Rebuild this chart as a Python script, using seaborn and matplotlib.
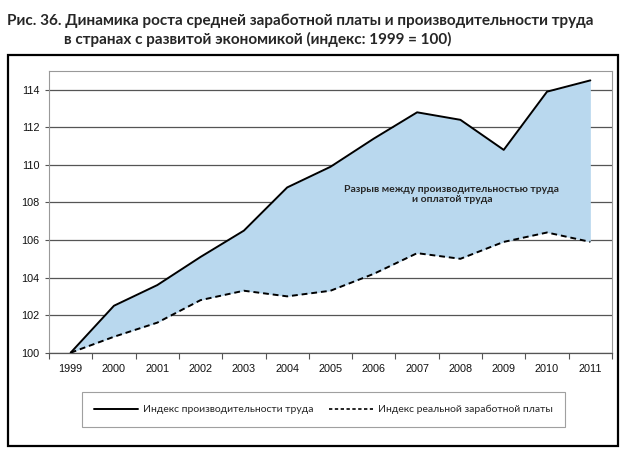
import pandas as pd
import seaborn as sns
import matplotlib.pyplot as plt
from matplotlib.patches import Rectangle

# данные (индекс: 1999 = 100)
years = ['1999', '2000', '2001', '2002', '2003', '2004', '2005',
         '2006', '2007', '2008', '2009', '2010', '2011']
productivity = [100.0, 102.5, 103.6, 105.1, 106.5, 108.8, 109.9,
                111.4, 112.8, 112.4, 110.8, 113.9, 114.5]
wages = [100.0, 100.85, 101.6, 102.8, 103.3, 103.0, 103.3,
         104.2, 105.3, 105.0, 105.9, 106.4, 105.9]

label_prod = 'Индекс производительности труда'
label_wage = 'Индекс реальной заработной платы'

df = pd.DataFrame({'Год': years, label_prod: productivity, label_wage: wages})
df['x'] = range(len(years))
df_long = df.melt(id_vars=['Год', 'x'], var_name='Ряд', value_name='Индекс')

sns.set_style("white")
plt.rcParams['font.family'] = ['Lato', 'DejaVu Sans']

fig = plt.figure(figsize=(6.3, 4.54), dpi=100)
ax = fig.add_axes([49 / 630, 101.3 / 454, 563 / 630, 281.7 / 454])

# заливка разрыва
ax.fill_between(df['x'], df[label_wage], df[label_prod],
                color='#b9d8ee', zorder=2, linewidth=0)

sns.lineplot(data=df_long, x='x', y='Индекс', hue='Ряд', style='Ряд',
             palette=['black', 'black'],
             dashes={label_prod: '', label_wage: (3, 2)},
             linewidth=1.4, ax=ax, zorder=3, legend=False)

ax.set_xlim(-0.5, len(years) - 0.5)
ax.set_ylim(100, 115)
ax.set_yticks(range(100, 115, 2))
ax.set_xticks(df['x'])
ax.set_xticklabels(years)
ax.set_xticks([i - 0.5 for i in range(len(years) + 1)], minor=True)
ax.set_xlabel('')
ax.set_ylabel('')

ax.yaxis.grid(True, color='#555555', linewidth=0.9, zorder=1)
ax.set_axisbelow(True)
for side in ['top', 'right', 'left']:
    ax.spines[side].set_color('#999999')
    ax.spines[side].set_linewidth(0.8)
ax.spines['bottom'].set_color('#555555')
ax.spines['bottom'].set_linewidth(0.9)

ax.tick_params(axis='x', which='major', length=0, pad=8)
ax.tick_params(axis='x', which='minor', bottom=True, length=4, width=0.8, color='#555555')
ax.tick_params(axis='y', left=True, length=3, width=0.8, color='#555555', pad=4)
for lab in ax.get_xticklabels() + ax.get_yticklabels():
    lab.set_family('Liberation Sans')
    lab.set_fontsize(7.8)
    lab.set_color('#111111')

ax.text(8.8, 108.4, 'Разрыв между производительностью труда\nи оплатой труда',
        ha='center', va='center', fontsize=7.5, fontweight='bold',
        linespacing=1.15, zorder=4)

# легенда
handles = [plt.Line2D([], [], color='black', linewidth=1.4),
           plt.Line2D([], [], color='black', linewidth=1.2, dashes=(2, 1.5))]
leg = fig.legend(handles, [label_prod, label_wage], ncol=2,
                 loc='center', bbox_to_anchor=(323.5 / 630, 1 - 409.5 / 454),
                 frameon=True, fancybox=False, edgecolor='#888888',
                 fontsize=7.5, handlelength=4.2, columnspacing=1.5,
                 borderpad=1.2, handletextpad=0.5, borderaxespad=0)
leg.get_frame().set_linewidth(0.8)

# заголовок
fig.text(7 / 630, 1 - 21 / 454,
         'Рис. 36. Динамика роста средней заработной платы и производительности труда',
         ha='left', va='center', fontsize=11, fontweight='bold')
fig.text(64 / 630, 1 - 39 / 454,
         'в странах с развитой экономикой (индекс: 1999 = 100)',
         ha='left', va='center', fontsize=11, fontweight='bold')

# рамка вокруг рисунка
fig.patches.append(Rectangle((8 / 630, 8 / 454), 610 / 630, 391 / 454,
                             transform=fig.transFigure, fill=False,
                             edgecolor='black', linewidth=1.6))

fig.savefig('out.png', dpi=100)
